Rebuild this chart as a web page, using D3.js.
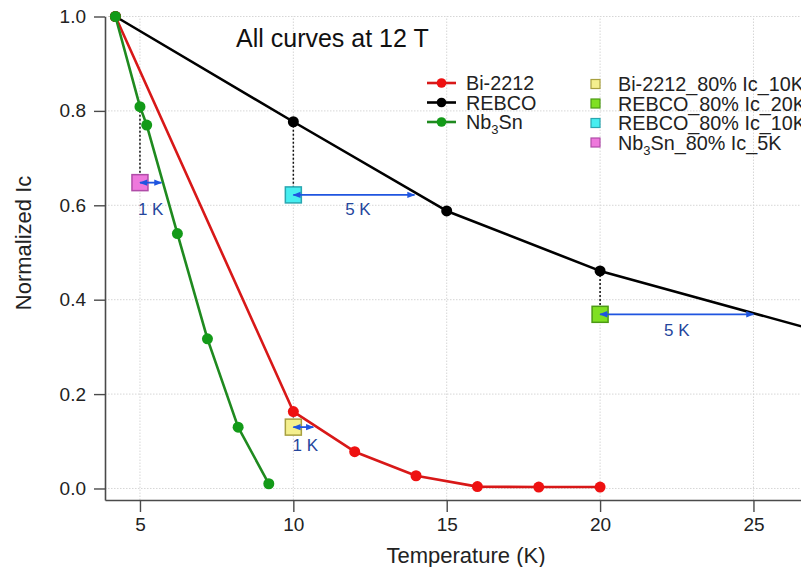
<!DOCTYPE html>
<html>
<head>
<meta charset="utf-8">
<script src="https://cdn.jsdelivr.net/npm/d3@7"></script>
<style>
  html, body { margin: 0; padding: 0; background: #fff; overflow: hidden; }
  svg { display: block; font-family: "Liberation Sans", Arial, Helvetica, sans-serif; }
</style>
</head>
<body>
<svg id="chart" width="801" height="567"></svg>
<script>
// Normalized critical current vs temperature, all conductors at 12 T
const biTemp = [4.2, 10, 12, 14, 16, 18, 20];
const biIc = [1.0, 0.163, 0.078, 0.027, 0.004, 0.003, 0.003];

const rebcoTemp = [4.2, 10, 15, 20, 30];
const rebcoIc = [1.0, 0.777, 0.588, 0.461, 0.282];

const nbTemp = [4.2, 5, 5.22, 6.22, 7.2, 8.2, 9.2];
const nbIc = [1.0, 0.809, 0.77, 0.54, 0.317, 0.13, 0.01];

// 80 % Ic operating points and the temperature margin they leave
const markName = ["Bi-2212_80% Ic_10K", "REBCO_80% Ic_20K", "REBCO_80% Ic_10K", "Nb3Sn_80% Ic_5K"];
const markTemp = [10, 20, 10, 5];
const markIc = [0.130, 0.369, 0.622, 0.648];
const markFullIc = [0.163, 0.461, 0.777, 0.809];
const marginEndTemp = [10.65, 25, 13.95, 5.7];
const marginLabel = ["1 K", "5 K", "5 K", "1 K"];

const xTicks = [5, 10, 15, 20, 25];
const yTicks = [0.0, 0.2, 0.4, 0.6, 0.8, 1.0];

const seriesName = ["Bi-2212", "REBCO", "Nb3Sn"];

// ---- styling -------------------------------------------------------------
const lineColor = { "Bi-2212": "#d81818", "REBCO": "#000000", "Nb3Sn": "#1f8a1f" };
const dotColor = { "Bi-2212": "#ee1111", "REBCO": "#000000", "Nb3Sn": "#139a18" };
const markFill = ["#f4ef8e", "#7fe022", "#46eef0", "#ee78dc"];
const markStroke = ["#a8a040", "#4c9a14", "#2aa6b0", "#b04ca8"];
const labelDy = [24, 22, 20, 32];
const labelDx = [2, 0, 4, 0];
const arrowColor = "#1f55e0";
const labelColor = "#25469c";

const svg = d3.select("#chart");

const x = d3.scaleLinear().domain([3.86, 26.55]).range([105, 801]);
const y = d3.scaleLinear().domain([-0.0244, 1.0]).range([500, 16.5]);

// grid
const grid = svg.append("g");
grid.selectAll("line.gx").data(xTicks).join("line")
  .attr("x1", d => x(d)).attr("x2", d => x(d))
  .attr("y1", y.range()[0]).attr("y2", y.range()[1])
  .attr("stroke", "#d6d6d6").attr("stroke-width", 1).attr("stroke-dasharray", "1.5,1.5");
grid.selectAll("line.gy").data(yTicks).join("line")
  .attr("x1", x.range()[0]).attr("x2", x.range()[1])
  .attr("y1", d => y(d)).attr("y2", d => y(d))
  .attr("stroke", "#d6d6d6").attr("stroke-width", 1).attr("stroke-dasharray", "1.5,1.5");

// axes
const xAxis = svg.append("g").attr("transform", `translate(0,${y.range()[0]})`)
  .call(d3.axisBottom(x).tickValues(xTicks).tickFormat(d3.format("d")).tickSize(12).tickSizeOuter(0).tickPadding(6));
const yAxis = svg.append("g").attr("transform", `translate(${x.range()[0]},0)`)
  .call(d3.axisLeft(y).tickValues(yTicks).tickFormat(d3.format(".1f")).tickSize(11).tickSizeOuter(0).tickPadding(8));
[xAxis, yAxis].forEach(a => {
  a.select(".domain").attr("stroke", "#4a4a4a").attr("stroke-width", 1.6);
  a.selectAll(".tick line").attr("stroke", "#4a4a4a").attr("stroke-width", 1.4);
  a.selectAll(".tick text").attr("fill", "#222").style("font-size", "19px")
    .style("font-family", "'Liberation Sans', Arial, sans-serif");
});

svg.append("text").attr("x", 466).attr("y", 563).attr("text-anchor", "middle")
  .attr("fill", "#222").style("font-size", "22px").text("Temperature (K)");
svg.append("text").attr("transform", "translate(31,243) rotate(-90)").attr("text-anchor", "middle")
  .attr("fill", "#222").style("font-size", "22px").text("Normalized Ic");

svg.append("text").attr("x", 236).attr("y", 47).attr("fill", "#111")
  .style("font-size", "25px").text("All curves at 12 T");

// dotted drop lines from each curve point to its 80 % square
svg.selectAll("line.drop").data(markTemp).join("line")
  .attr("x1", d => x(d)).attr("x2", d => x(d))
  .attr("y1", (d, i) => y(markFullIc[i])).attr("y2", (d, i) => y(markIc[i]))
  .attr("stroke", "#111").attr("stroke-width", 1.5).attr("stroke-dasharray", "2,2");

// series
const series = [
  { name: "REBCO", t: rebcoTemp, v: rebcoIc },
  { name: "Bi-2212", t: biTemp, v: biIc },
  { name: "Nb3Sn", t: nbTemp, v: nbIc }
];
const line = d3.line().x(d => x(d[0])).y(d => y(d[1]));
series.forEach(s => {
  const pts = s.t.map((t, i) => [t, s.v[i]]);
  svg.append("path").datum(pts).attr("d", line).attr("fill", "none")
    .attr("stroke", lineColor[s.name]).attr("stroke-width", 2.6).attr("stroke-linejoin", "round");
  svg.append("g").selectAll("circle").data(pts).join("circle")
    .attr("cx", d => x(d[0])).attr("cy", d => y(d[1])).attr("r", 5.5)
    .attr("fill", dotColor[s.name]);
});

// squares at 80 % Ic
svg.selectAll("rect.mark").data(markTemp).join("rect")
  .attr("x", d => x(d) - 8).attr("y", (d, i) => y(markIc[i]) - 8)
  .attr("width", 16).attr("height", 16)
  .attr("fill", (d, i) => markFill[i]).attr("stroke", (d, i) => markStroke[i]).attr("stroke-width", 1.5);

// margin arrows
const defs = svg.append("defs");
["start", "end"].forEach(k => {
  defs.append("marker").attr("id", "ah-" + k)
    .attr("viewBox", "0 0 10 10").attr("refX", 9).attr("refY", 5)
    .attr("markerWidth", 11).attr("markerHeight", 8).attr("markerUnits", "userSpaceOnUse")
    .attr("orient", k === "start" ? "auto-start-reverse" : "auto")
    .append("path").attr("d", "M0,1 L10,5 L0,9 Z").attr("fill", arrowColor);
});
svg.selectAll("line.margin").data(markTemp).join("line")
  .attr("x1", d => x(d)).attr("x2", (d, i) => x(marginEndTemp[i]))
  .attr("y1", (d, i) => y(markIc[i])).attr("y2", (d, i) => y(markIc[i]))
  .attr("stroke", arrowColor).attr("stroke-width", 1.8)
  .attr("marker-start", "url(#ah-start)").attr("marker-end", "url(#ah-end)");
svg.selectAll("text.margin").data(markTemp).join("text")
  .attr("x", (d, i) => (x(d) + x(marginEndTemp[i])) / 2 + labelDx[i])
  .attr("y", (d, i) => y(markIc[i]) + labelDy[i])
  .attr("text-anchor", "middle").attr("fill", labelColor).style("font-size", "17px")
  .text((d, i) => marginLabel[i]);

// legend text with subscript for Nb3Sn
function richName(sel, name) {
  const m = name.match(/^Nb3Sn(.*)$/);
  if (m) {
    sel.append("tspan").text("Nb");
    sel.append("tspan").attr("dy", 5).style("font-size", "13px").text("3");
    sel.append("tspan").attr("dy", -5).text("Sn" + m[1]);
  } else {
    sel.text(name);
  }
}

const legendRowY = [83, 102.5, 122, 141.5];
const leg1 = svg.append("g");
seriesName.forEach((n, i) => {
  const yy = legendRowY[i];
  leg1.append("line").attr("x1", 427).attr("x2", 456).attr("y1", yy).attr("y2", yy)
    .attr("stroke", lineColor[n]).attr("stroke-width", 2.6);
  leg1.append("circle").attr("cx", 441.5).attr("cy", yy).attr("r", 4.8).attr("fill", dotColor[n]);
  const t = leg1.append("text").attr("x", 466).attr("y", yy + 7).attr("fill", "#222").style("font-size", "19.8px");
  richName(t, n);
});
const leg2 = svg.append("g");
markName.forEach((n, i) => {
  const yy = legendRowY[i] + 1;
  leg2.append("rect").attr("x", 591).attr("y", yy - 4.5).attr("width", 9).attr("height", 9)
    .attr("fill", markFill[i]).attr("stroke", markStroke[i]).attr("stroke-width", 1.2);
  const t = leg2.append("text").attr("x", 618).attr("y", yy + 7).attr("fill", "#222").style("font-size", "19.8px");
  richName(t, n);
});
</script>
</body>
</html>
